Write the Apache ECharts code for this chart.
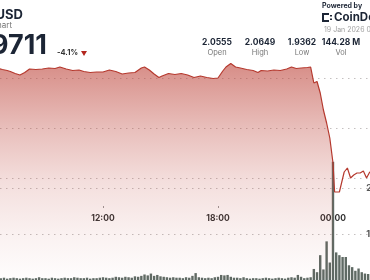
<!DOCTYPE html>
<html><head><meta charset="utf-8">
<script src="https://cdn.jsdelivr.net/npm/echarts@6/dist/echarts.min.js"></script>
<style>html,body{margin:0;padding:0;background:#fff}#c{width:370px;height:280px}</style>
</head><body><div id="c"></div>
<script>
// ---- data ----
const priceTimes = ["06:30","06:45","07:00","07:10","07:25","07:40","07:55","08:10","08:30","08:50","09:10","09:30","09:45","10:05","10:25","10:45","11:00","11:20","11:40","12:00","12:20","12:40","13:00","13:20","13:40","14:00","14:10","14:25","14:40","14:55","15:05","15:25","15:45","16:05","16:25","16:45","17:05","17:25","17:45","18:00","18:15","18:25","18:40","18:55","19:10","19:30","19:50","20:05","20:15","20:35","20:55","21:15","21:35","21:50","22:05","22:20","22:40","22:50","23:00","23:10","23:20","23:30","23:40","23:50","00:00","00:05","00:20","00:35","00:45","00:55","01:05","01:15","01:25","01:35","01:45","01:55","02:10","02:30","03:00","03:30","04:00"];
const priceValues = [2.0600,2.0585,2.0575,2.0565,2.0545,2.0530,2.0555,2.0590,2.0585,2.0590,2.0600,2.0595,2.0610,2.0590,2.0575,2.0580,2.0565,2.0555,2.0560,2.0560,2.0580,2.0565,2.0540,2.0550,2.0555,2.0600,2.0610,2.0580,2.0540,2.0505,2.0520,2.0545,2.0535,2.0545,2.0530,2.0505,2.0520,2.0505,2.0495,2.0500,2.0570,2.0610,2.0645,2.0610,2.0600,2.0585,2.0575,2.0555,2.0575,2.0570,2.0580,2.0575,2.0590,2.0610,2.0595,2.0600,2.0605,2.0610,2.0450,2.0465,2.0350,2.0180,2.0050,1.9900,1.9650,1.9360,1.9360,1.9560,1.9600,1.9500,1.9530,1.9550,1.9550,1.9570,1.9500,1.9560,1.9540,1.9580,1.9600,1.9650,1.9711];
const volStart = "06:40";
const volValues = [0.4,0.5,0.3,0.4,0.5,0.4,0.3,0.4,
 0.5,0.4,0.3,0.4,0.6,0.4,
 0.4,0.3,0.5,0.4,0.3,0.4,
 0.5,0.4,0.4,0.6,0.5,0.4,
 0.4,0.5,0.3,0.4,0.4,0.5,
 0.6,0.5,0.4,0.5,0.7,0.6,
 0.5,0.7,0.6,0.5,0.8,0.7,
 0.9,1.2,1.0,1.4,0.9,1.1,
 0.8,0.7,0.6,0.5,0.6,0.5,
 0.5,0.4,0.6,0.5,0.9,1.5,
 0.6,0.5,0.4,0.5,0.4,0.6,
 0.7,1.1,1.0,1.1,0.7,0.5,
 0.5,0.4,0.6,0.4,0.3,0.4,
 0.4,0.3,0.4,0.5,0.4,0.3,
 0.4,0.5,0.4,0.3,0.5,0.6,
 0.5,1.1,0.7,0.4,0.5,0.6,
 2.4,1.7,5.4,2.3,8.4,3.8,
 25.7,6.0,5.4,5.0,5.0,3.2,
 2.8,2.0,2.5,1.7,1.4,1.3,1.1];
const priceLines = [1.95, 2.05];
const volTickLabels = ["20M","10M"];
const statValues = ["2.0555","2.0649","1.9362","144.28 M"];
const statLabels = ["Open","High","Low","Vol"];
const headerTexts = {pair:"XRP/USD", sub:"Price Chart", price:"1.9711", change:"-4.1%", powered:"Powered by", brand:"CoinDesk", stamp:"19 Jan 2026 04:00 UTC"};

// ---- helpers ----
function toHours(list){let add=0,prev=-1;return list.map(t=>{const [h,m]=t.split(':').map(Number);let v=h+m/60;if(v<prev)add+=24;prev=v;return v+add;});}
const priceHours = toHours(priceTimes);
const vs = volStart.split(':').map(Number); const v0 = vs[0]+vs[1]/60;
const volData = volValues.map((v,i)=>[v0+i/6, v]);
const lineData = priceHours.map((h,i)=>[h, priceValues[i]]);
const areaData = lineData.filter(d=>d[0]<=24);
const pad=n=>(n<10?'0':'')+n;

const chart = echarts.init(document.getElementById('c'), null, {renderer:'canvas'});
const X0=6, X1=28; const L=-12, R=-39.67;
const FONT='Inter, "Noto Sans", sans-serif';
const dotted={color:'#c4c0c0',type:[1.5,4.5],width:1};
const hiddenX=i=>({type:'value',gridIndex:i,min:X0,max:X1,show:false});

const statCenters=[217,260,302,341];
const graphics=[
 {type:'text',style:{text:headerTexts.pair,x:23,y:15,align:'right',verticalAlign:'middle',font:'bold 13px '+FONT,fill:'#1c2535'}},
 {type:'text',style:{text:headerTexts.sub,x:12,y:26,align:'right',verticalAlign:'middle',font:'8px '+FONT,fill:'#777'}},
 {type:'text',style:{text:headerTexts.price,x:47,y:46,align:'right',verticalAlign:'middle',font:'bold 27px '+FONT,fill:'#1c2535'}},
 {type:'text',style:{text:headerTexts.change,x:57,y:53,align:'left',verticalAlign:'middle',font:'bold 7.5px '+FONT,fill:'#333'}},
 {type:'polygon',shape:{points:[[81,51],[87,51],[84,56]]},style:{fill:'#b3261e'}},
 {type:'text',style:{text:headerTexts.powered,x:322,y:5.5,align:'left',verticalAlign:'middle',font:'bold 7px '+FONT,fill:'#1c2535'}},
 {type:'rect',shape:{x:322,y:13,width:2,height:9},style:{fill:'#1c2535'}},
 {type:'rect',shape:{x:322,y:13,width:7,height:2},style:{fill:'#1c2535'}},
 {type:'rect',shape:{x:322,y:20,width:7,height:2},style:{fill:'#1c2535'}},
 {type:'rect',shape:{x:330,y:15,width:2,height:1.5},style:{fill:'#1c2535'}},
 {type:'rect',shape:{x:330,y:18.5,width:2,height:1.5},style:{fill:'#1c2535'}},
 {type:'text',style:{text:headerTexts.brand,x:334,y:17.5,align:'left',verticalAlign:'middle',font:'bold 11.5px '+FONT,fill:'#1c2535'}},
 {type:'text',style:{text:headerTexts.stamp,x:324,y:30,align:'left',verticalAlign:'middle',font:'7px '+FONT,fill:'#a0a0a0'}}
];
statValues.forEach((v,i)=>{
 graphics.push({type:'text',style:{text:v,x:statCenters[i],y:42.5,align:'center',verticalAlign:'middle',font:'bold 8.5px '+FONT,fill:'#1c2535'}});
 graphics.push({type:'text',style:{text:statLabels[i],x:statCenters[i],y:52.5,align:'center',verticalAlign:'middle',font:'7.5px '+FONT,fill:'#777'}});
});

chart.setOption({
 backgroundColor:'#fff',
 animation:false,
 graphic:graphics,
 grid:[
  {left:L,right:R,top:28,bottom:2,outerBoundsMode:'none',containLabel:false},
  {left:L,right:R,top:78,height:100,outerBoundsMode:'none',containLabel:false},
  {left:L,right:R,top:142,bottom:0,outerBoundsMode:'none',containLabel:false}
 ],
 xAxis:[
  {type:'value',gridIndex:0,min:X0,max:X1,interval:6,offset:-72,
   axisLine:{show:false},splitLine:{show:false},
   axisTick:{show:true,length:2,lineStyle:{color:'#999'}},
   axisLabel:{showMinLabel:false,showMaxLabel:false,margin:8,color:'#333',fontWeight:'bold',fontSize:8.5,fontFamily:FONT,
     formatter:v=>pad(v%24)+':00'}},
  hiddenX(1),hiddenX(2)
 ],
 yAxis:[
  {type:'value',gridIndex:0,min:1.85,max:2.10,interval:0.05,show:false,splitLine:{show:false}},
  {type:'value',gridIndex:1,min:priceLines[0],max:priceLines[1],interval:0.05,position:'right',
   axisLine:{show:false},axisTick:{show:false},axisLabel:{show:false},splitLine:{show:true,lineStyle:dotted}},
  {type:'value',gridIndex:2,min:0,max:30,interval:10,position:'right',
   axisLine:{show:false},axisTick:{show:false},
   axisLabel:{inside:true,align:'left',margin:43.5,color:'#555',fontSize:9,fontWeight:'bold',fontFamily:FONT,
     showMinLabel:false,showMaxLabel:false,formatter:v=>v===20?volTickLabels[0]:(v===10?volTickLabels[1]:'')},
   splitLine:{show:true,showMinLine:false,showMaxLine:false,lineStyle:dotted}}
 ],
 series:[
  {type:'bar',xAxisIndex:2,yAxisIndex:2,data:volData,barWidth:2.4,itemStyle:{color:'#5f6a64'},z:1},
  {type:'line',xAxisIndex:0,yAxisIndex:0,data:areaData,showSymbol:false,lineStyle:{width:0},
   areaStyle:{color:new echarts.graphic.LinearGradient(0,0,0,1,[
     {offset:0,color:'rgba(190,70,60,0.88)'},{offset:0.3,color:'rgba(190,70,60,0.5)'},
     {offset:0.55,color:'rgba(190,70,60,0.25)'},{offset:0.8,color:'rgba(190,70,60,0.1)'},
     {offset:1,color:'rgba(190,70,60,0.02)'}])},z:2,silent:true},
  {type:'line',xAxisIndex:0,yAxisIndex:0,data:lineData,showSymbol:false,lineStyle:{color:'#b5392e',width:1.2},z:3}
 ]
});
</script></body></html>
